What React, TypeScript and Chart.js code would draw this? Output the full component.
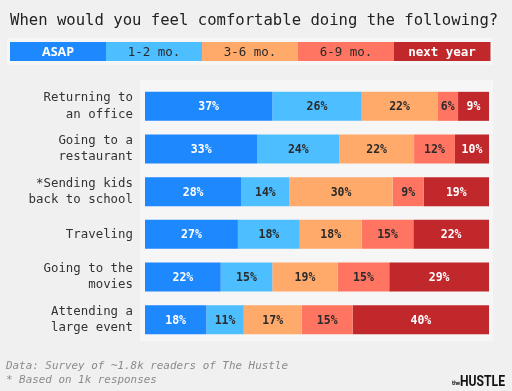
import React, { useEffect, useRef } from "react";
import { Chart, registerables } from "chart.js";

Chart.register(...registerables);

const titleText = "When would you feel comfortable doing the following?";
const categories: string[][] = [
  ["Returning to", "an office"],
  ["Going to a", "restaurant"],
  ["*Sending kids", "back to school"],
  ["Traveling"],
  ["Going to the", "movies"],
  ["Attending a", "large event"],
];
const seriesNames = ["ASAP", "1-2 mo.", "3-6 mo.", "6-9 mo.", "next year"];
const asap = [37, 33, 28, 27, 22, 18];
const oneToTwo = [26, 24, 14, 18, 15, 11];
const threeToSix = [22, 22, 30, 18, 19, 17];
const sixToNine = [6, 12, 9, 15, 15, 15];
const nextYear = [9, 10, 19, 22, 29, 40];
const footerLines = ["Data: Survey of ~1.8k readers of The Hustle", "* Based on 1k responses"];

const colors = ["#1e88ff", "#4dbeff", "#ffa96b", "#ff7561", "#c0282b"];
const labelColors = ["#ffffff", "#2a2a2a", "#2a2a2a", "#2a2a2a", "#ffffff"];
const MONO = "'DejaVu Sans Mono', 'Liberation Mono', monospace";

export default function App() {
  const ref = useRef<HTMLCanvasElement | null>(null);

  useEffect(() => {
    const canvas = ref.current;
    if (!canvas) return;
    const series = [asap, oneToTwo, threeToSix, sixToNine, nextYear];
    const totals = categories.map((_, i) => series.reduce((s, arr) => s + arr[i], 0));

    const decor = {
      id: "decor",
      beforeDraw(chart: any) {
        const ctx = chart.ctx;
        ctx.save();
        ctx.fillStyle = "#f0f0f0";
        ctx.fillRect(0, 0, chart.width, chart.height);
        const ca = chart.chartArea;
        ctx.fillStyle = "#f6f6f6";
        ctx.fillRect(ca.left - 5, ca.top - 5, ca.right - ca.left + 9, ca.bottom - ca.top + 5);
        // title
        ctx.fillStyle = "#222";
        ctx.font = `15.6px ${MONO}`;
        ctx.textBaseline = "alphabetic";
        ctx.textAlign = "left";
        ctx.fillText(titleText, 10, 25);
        // legend
        const lx = 10, lw = 480, ly = 42, lh = 19;
        ctx.fillStyle = "#f6f6f6";
        ctx.fillRect(lx - 3, ly - 4, lw + 6, lh + 8);
        const seg = lw / seriesNames.length;
        seriesNames.forEach((name, i) => {
          ctx.fillStyle = colors[i];
          ctx.fillRect(lx + i * seg, ly, seg + 0.5, lh);
          ctx.fillStyle = labelColors[i];
          if (i === 0) ctx.font = `bold 12.5px 'Open Sans', 'DejaVu Sans', sans-serif`;
          else if (i === 4) ctx.font = `bold 12.5px ${MONO}`;
          else ctx.font = `12.5px ${MONO}`;
          ctx.textAlign = "center";
          ctx.textBaseline = "middle";
          ctx.fillText(name, lx + i * seg + seg / 2, ly + lh / 2 + 1);
        });
        // footer
        ctx.fillStyle = "#8a8a8a";
        ctx.font = `italic 10.9px ${MONO}`;
        ctx.textAlign = "left";
        ctx.textBaseline = "alphabetic";
        ctx.fillText(footerLines[0], 6, 369);
        ctx.fillText(footerLines[1], 6, 383);
        // logo
        ctx.fillStyle = "#111";
        ctx.font = `bold 6px 'DejaVu Sans', sans-serif`;
        ctx.fillText("the", 452, 385, 8);
        ctx.font = `bold 14px Roboto, 'DejaVu Sans', sans-serif`;
        ctx.fillText("HUSTLE", 460, 386, 45);
        ctx.restore();
      },
      afterDatasetsDraw(chart: any) {
        const ctx = chart.ctx;
        ctx.save();
        ctx.font = `bold 11.5px ${MONO}`;
        ctx.textAlign = "center";
        ctx.textBaseline = "middle";
        chart.data.datasets.forEach((ds: any, di: number) => {
          const meta = chart.getDatasetMeta(di);
          meta.data.forEach((el: any, i: number) => {
            const p = el.getProps(["x", "base", "y"], true);
            const cx = (p.x + p.base) / 2;
            ctx.fillStyle = labelColors[di];
            ctx.fillText(`${series[di][i]}%`, cx, p.y + 1);
          });
        });
        ctx.restore();
      },
    };

    const chart = new Chart(canvas, {
      type: "bar",
      data: {
        labels: categories,
        datasets: series.map((arr, di) => ({
          label: seriesNames[di],
          data: arr.map((v, i) => (v / totals[i]) * 100),
          backgroundColor: colors[di],
          borderWidth: 0,
          barPercentage: 0.68,
          categoryPercentage: 1,
        })),
      },
      options: {
        indexAxis: "y",
        responsive: false,
        animation: false,
        layout: { padding: { top: 85, bottom: 50, left: 0, right: 23 } },
        plugins: {
          legend: { display: false },
          title: { display: false },
          tooltip: { enabled: false },
        },
        scales: {
          x: { stacked: true, display: false, min: 0, max: 100 },
          y: {
            stacked: true,
            grid: { display: false, drawTicks: false },
            border: { display: false },
            afterFit: (scale: any) => {
              scale.width = 145;
            },
            ticks: {
              color: "#333",
              padding: 12,
              font: { family: MONO, size: 12.4, lineHeight: 1.3 },
            },
          },
        },
      },
      plugins: [decor],
    } as any);
    return () => chart.destroy();
  }, []);

  return (
    <div style={{ position: "fixed", left: 0, top: 0, width: 512, height: 391, background: "#f0f0f0" }}>
      <canvas ref={ref} width={512} height={391} style={{ display: "block", width: 512, height: 391 }} />
    </div>
  );
}
